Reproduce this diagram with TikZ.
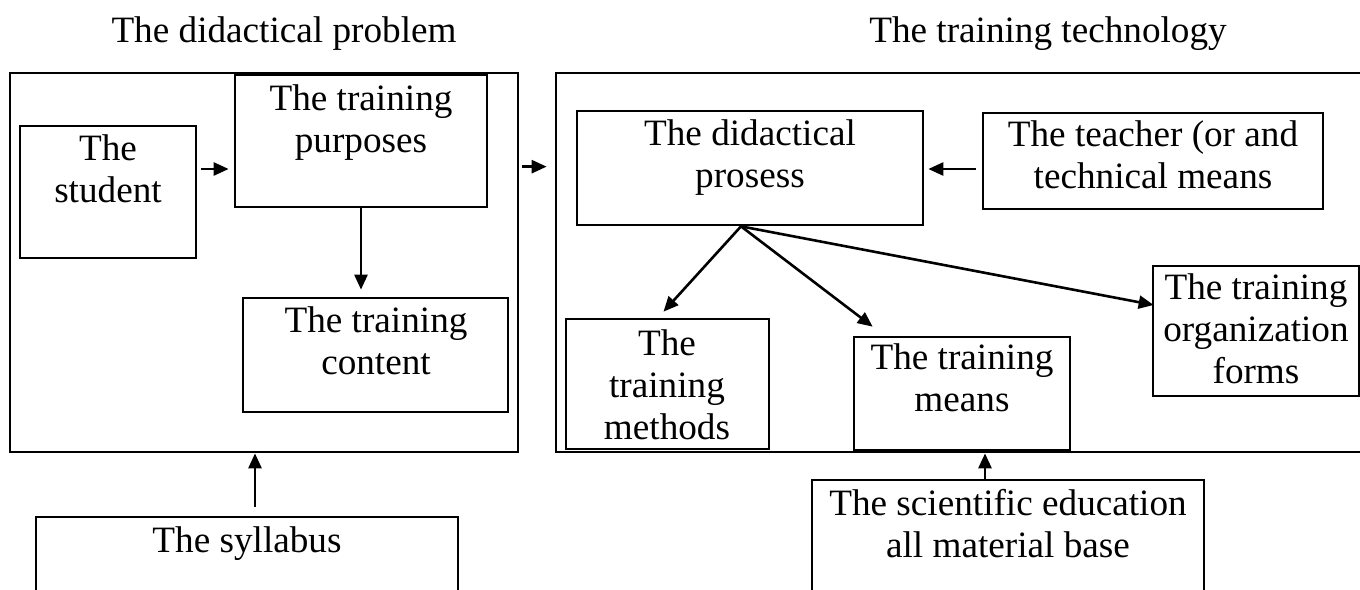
\documentclass[tikz,border=0pt]{standalone}
\usepackage{fontspec}
\setmainfont{Liberation Serif}
\usetikzlibrary{arrows.meta,calc,fit}
\begin{document}
\begin{tikzpicture}[x=0.5pt,y=-0.5pt,
  box/.style={draw, line width=1.35pt, inner sep=0pt, rectangle},
  txt/.style={anchor=base, align=center, inner sep=0pt, font=\fontsize{18.6}{21}\selectfont},
  ttl/.style={anchor=base, inner sep=0pt, font=\fontsize{18.6}{21}\selectfont},
  arr/.style={line width=1.3pt, -{Triangle[length=7.5pt,width=6.5pt]}}]
\useasboundingbox (0,0) rectangle (1360,589);
\clip (0,0) rectangle (1360,589);
\fill[white] (0,0) rectangle (1360,589);

% titles
\node[ttl] (title1) at (284,42) {The didactical problem};
\node[ttl] (title2) at (1048,42) {The training technology};

% big frames
\node[box, fit={(10,73) (518,452)}] (problem) {};
\node[box, fit={(556,73) (1380,452)}] (technology) {};

% left part (text anchored at the baseline of its last line)
\node[box, fit={(20,126) (196,258)}] (student) {};
\node[txt] (student-t) at (108,202) {The\\student};
\node[box, fit={(235,75) (487,207)}] (purposes) {};
\node[txt] (purposes-t) at (361,152) {The training\\purposes};
\node[box, fit={(243,298) (508,412)}] (content) {};
\node[txt] (content-t) at (376,374) {The training\\content};

% right part
\node[box, fit={(577,111) (923,225)}] (didactical) {};
\node[txt] (didactical-t) at (750,187) {The didactical\\prosess};
\node[box, fit={(983,113) (1323,209)}] (teacher) {};
\node[txt] (teacher-t) at (1153,188) {The teacher (or and\\technical means};
\node[box, fit={(566,319) (769,449)}] (methods) {};
\node[txt] (methods-t) at (667,439) {The\\training\\methods};
\node[box, fit={(854,337) (1070,450)}] (means) {};
\node[txt] (means-t) at (962,411) {The training\\means};
\node[box, fit={(1153,266) (1359,396)}] (forms) {};
\node[txt] (forms-t) at (1256,383) {The training\\organization\\forms};

% bottom boxes
\node[box, fit={(36,517) (458,640)}] (syllabus) {};
\node[txt] (syllabus-t) at (247,552) {The syllabus};
\node[box, fit={(812,480) (1204,640)}] (science) {};
\node[txt] (science-t) at (1008,557) {The scientific education\\all material base};

% connectors
\draw[arr] ($(student.east)+(4,-23)$) -- ($(purposes.west)+(-5,28)$);
\draw[arr, shorten >=3.5pt] (purposes.south) -- (purposes.south |- content.north);
\draw[arr] ($(problem.north east)+(3,95)$) -- ($(technology.north west)+(-8,95)$);
\draw[arr] ($(teacher.west)+(-6,8)$) -- ($(didactical.east)+(4,1)$);
\coordinate (fan) at ($(didactical.south)+(-9,0)$);
\draw[arr] (fan) -- ($(methods.north)+(-4,-6)$);
\draw[arr] (fan) -- ($(means.north west)+(20,-9)$);
\draw[arr] (fan) -- ($(forms.west)+(2,-26)$);
\coordinate (sylt) at ($(syllabus.north)+(8,-9)$);
\draw[arr] (sylt) -- (sylt |- problem.south);
\coordinate (scit) at ($(science.north)+(-23,0)$);
\draw[arr] (scit) -- (scit |- technology.south);
\end{tikzpicture}
\end{document}
